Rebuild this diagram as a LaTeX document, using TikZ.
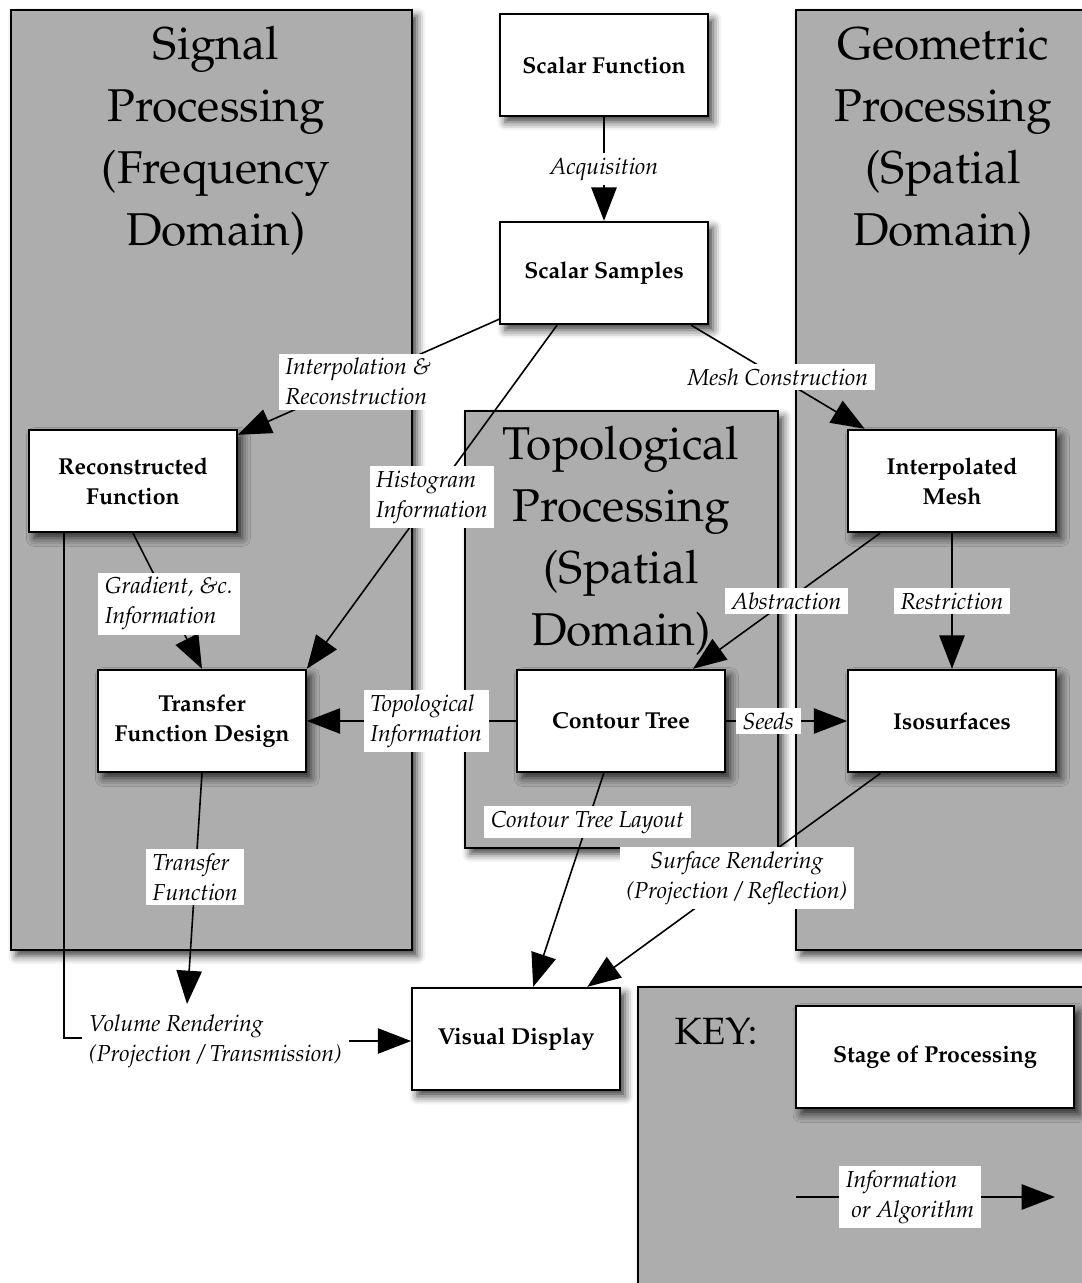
\documentclass[tikz,border=0pt]{standalone}
\usepackage[T1]{fontenc}
\usepackage{mathpazo}
\usetikzlibrary{arrows.meta,shadows.blur,calc}
\definecolor{panelgray}{RGB}{173,173,173}
\tikzset{
  softshadow/.style={blur shadow={shadow xshift=4pt, shadow yshift=-4.5pt, shadow blur radius=6pt, shadow opacity=75}},
  panel/.style={fill=panelgray, draw=black, line width=1.3pt, softshadow},
  paneltitle/.style={align=center, font=\fontsize{34.5}{46.5}\selectfont, inner sep=0pt},
  stage/.style={draw=black, line width=1.3pt, fill=white, minimum width=156pt, minimum height=77pt,
                align=center, font=\fontsize{17.3}{22.5}\selectfont\bfseries, softshadow},
  link/.style={line width=1.2pt, draw opacity=1, fill opacity=1},
  flow/.style={link, -{Triangle[length=25pt,width=19pt,fill=black]}},
  lab/.style={fill=white, fill opacity=1, text opacity=1, font=\fontsize{17.3}{22.5}\selectfont\itshape,
              align=left, inner xsep=5pt, inner ysep=3.5pt},
}
\begin{document}
\begin{tikzpicture}[x=0.75pt, y=-0.75pt]
\useasboundingbox (0,0) rectangle (1082,1283);
\clip (0,0) rectangle (1082,1283);

% processing domains
\path[panel] (11,10) rectangle (412,950);
\path[panel] (796,10) rectangle (1110,950);
\path[panel] (465,411) rectangle (778,848);
\path[panel] (638,987) rectangle (1110,1310);

\node[paneltitle] (sigtitle) at (216,141) {Signal\\Processing\\(Frequency\\Domain)};
\node[paneltitle] (geotitle) at (943,141) {Geometric\\Processing\\(Spatial\\Domain)};
\node[paneltitle] (toptitle) at (621,541) {Topological\\Processing\\(Spatial\\Domain)};
\node[inner sep=0pt, font=\fontsize{28.5}{34}\selectfont] (keytitle) at (716,1031) {KEY:};

% stages of processing
\node[stage] (sf)  at (604,65)   {Scalar Function};
\node[stage] (ss)  at (604,273)  {Scalar Samples};
\node[stage] (rf)  at (133,481)  {Reconstructed\\Function};
\node[stage] (im)  at (952,481)  {Interpolated\\Mesh};
\node[stage] (td)  at (202,721)  {Transfer\\Function Design};
\node[stage] (ct)  at (621,721)  {Contour Tree};
\node[stage] (iso) at (952,721)  {Isosurfaces};
\node[stage] (vd)  at (516,1039) {Visual Display};
\node[stage, minimum width=209pt] (keystage) at (935,1057) {Stage of Processing};

% volume rendering joins two inputs
\node[lab, anchor=west] (vr) at (82,1041) {Volume Rendering\\(Projection / Transmission)};
\coordinate (vrtop) at (187,1004);

% information and algorithms
\draw[flow] (sf) -- node[lab, pos=0.5] {Acquisition} (ss);
\draw[flow] (ss) -- node[lab, pos=0.54] {Interpolation \&\\Reconstruction} (rf);
\draw[flow] ($(ss.south)+(-47,0)$) -- node[lab, pos=0.5] {Histogram\\Information} (td.north east);
\draw[flow] (ss) -- node[lab, pos=0.5] {Mesh Construction} (im);
\draw[flow] (rf.south) -- node[lab, pos=0.52] {Gradient, \&c.\\Information} (td.north);
\draw[link] ($(rf.south west)+(36,0)$) |- ($(vr.west)+(0,-3)$);
\draw[flow] (td.south) -- node[lab, pos=0.45] {Transfer\\Function} (vrtop);
\draw[flow] (vr.east) -- (vr.east -| vd.west);
\draw[flow] (im) -- node[lab, pos=0.5] {Abstraction} (ct);
\draw[flow] (im) -- node[lab, pos=0.5] {Restriction} (iso);
\draw[flow] (ct) -- node[lab, pos=0.43] {Topological\\Information} (td);
\draw[flow] (ct) -- node[lab, pos=0.35] {Seeds} (iso);
\draw[flow] (ct) -- node[lab, pos=0.23] {Contour Tree Layout} (vd);
\draw[flow] (iso) -- node[lab, pos=0.49, align=center] {Surface Rendering\\(Projection / Reflection)} (vd);

% key arrow
\coordinate (k1) at (796,1197);
\coordinate (k2) at (1055,1197);
\draw[flow] (k1) -- node[lab, pos=0.44] {Information\\\ or Algorithm} (k2);
\end{tikzpicture}
\end{document}
